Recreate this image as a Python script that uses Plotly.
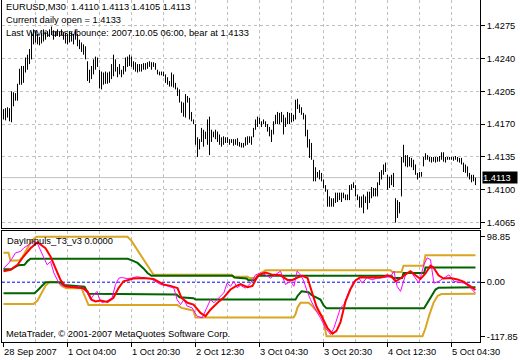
import plotly.graph_objects as go

W, H = 520, 360

# ---------------- data ----------------
symbol_text = "EURUSD,M30"
last_open, last_high, last_low, last_close = 1.4110, 1.4113, 1.4105, 1.4113
daily_open = 1.4133
wma_cross_time = "2007.10.05 06:00"
wma_cross_price = 1.4133
indicator_name = "DayImpuls_T3_v3"
indicator_value = 0.0000

bar_high = [
    1.4186, 1.4187, 1.4188, 1.4187, 1.4205, 1.4204, 1.4203, 1.4213, 1.4229, 1.4232,
    1.4232, 1.4241, 1.4244, 1.4250, 1.4268, 1.4271, 1.4269, 1.4266, 1.4263, 1.4267,
    1.4271, 1.4268, 1.4269, 1.4271, 1.4274, 1.4270, 1.4269, 1.4271, 1.4269, 1.4271,
    1.4268, 1.4267, 1.4266, 1.4269, 1.4268, 1.4266, 1.4270, 1.4266, 1.4260, 1.4257,
    1.4255, 1.4253, 1.4237, 1.4228, 1.4232, 1.4239, 1.4242, 1.4241, 1.4228, 1.4226,
    1.4225, 1.4226, 1.4225, 1.4226, 1.4234, 1.4244, 1.4239, 1.4231, 1.4234, 1.4228,
    1.4232, 1.4241, 1.4242, 1.4244, 1.4242, 1.4237, 1.4236, 1.4234, 1.4234, 1.4234,
    1.4235, 1.4235, 1.4236, 1.4237, 1.4236, 1.4236, 1.4235, 1.4228, 1.4226, 1.4226,
    1.4226, 1.4223, 1.4220, 1.4216, 1.4225, 1.4223, 1.4214, 1.4209, 1.4207, 1.4194,
    1.4193, 1.4202, 1.4200, 1.4198, 1.4183, 1.4175, 1.4170, 1.4156, 1.4154, 1.4166,
    1.4164, 1.4162, 1.4175, 1.4178, 1.4164, 1.4162, 1.4164, 1.4162, 1.4159, 1.4156,
    1.4157, 1.4156, 1.4156, 1.4154, 1.4154, 1.4154, 1.4154, 1.4155, 1.4151, 1.4150,
    1.4150, 1.4156, 1.4157, 1.4157, 1.4157, 1.4166, 1.4175, 1.4178, 1.4177, 1.4173,
    1.4175, 1.4173, 1.4170, 1.4167, 1.4164, 1.4173, 1.4180, 1.4183, 1.4182, 1.4183,
    1.4180, 1.4177, 1.4183, 1.4182, 1.4182, 1.4180, 1.4196, 1.4197, 1.4191, 1.4188,
    1.4182, 1.4180, 1.4164, 1.4154, 1.4150, 1.4132, 1.4124, 1.4119, 1.4121, 1.4118,
    1.4111, 1.4105, 1.4100, 1.4093, 1.4091, 1.4091, 1.4097, 1.4097, 1.4097, 1.4097,
    1.4097, 1.4095, 1.4095, 1.4105, 1.4106, 1.4108, 1.4105, 1.4095, 1.4093, 1.4093,
    1.4095, 1.4093, 1.4098, 1.4098, 1.4103, 1.4102, 1.4102, 1.4108, 1.4119, 1.4121,
    1.4127, 1.4129, 1.4116, 1.4114, 1.4116, 1.4118, 1.4091, 1.4089, 1.4087, 1.4135,
    1.4148, 1.4137, 1.4137, 1.4135, 1.4134, 1.4132, 1.4127, 1.4118, 1.4119, 1.4119,
    1.4135, 1.4139, 1.4137, 1.4135, 1.4135, 1.4135, 1.4135, 1.4135, 1.4136, 1.4140,
    1.4140, 1.4135, 1.4135, 1.4135, 1.4135, 1.4135, 1.4136, 1.4135, 1.4134, 1.4134,
    1.4129, 1.4127, 1.4125, 1.4118, 1.4116, 1.4116, 1.4113,
]
bar_low = [
    1.4175, 1.4174, 1.4177, 1.4173, 1.4172, 1.4189, 1.4195, 1.4195, 1.4212, 1.4212,
    1.4214, 1.4225, 1.4228, 1.4234, 1.4239, 1.4255, 1.4257, 1.4255, 1.4254, 1.4256,
    1.4258, 1.4260, 1.4263, 1.4263, 1.4265, 1.4260, 1.4263, 1.4264, 1.4263, 1.4265,
    1.4260, 1.4256, 1.4255, 1.4257, 1.4258, 1.4255, 1.4260, 1.4253, 1.4250, 1.4247,
    1.4244, 1.4239, 1.4216, 1.4214, 1.4218, 1.4223, 1.4228, 1.4231, 1.4208, 1.4207,
    1.4212, 1.4213, 1.4213, 1.4214, 1.4218, 1.4221, 1.4226, 1.4220, 1.4223, 1.4220,
    1.4223, 1.4226, 1.4231, 1.4232, 1.4231, 1.4228, 1.4226, 1.4225, 1.4226, 1.4226,
    1.4228, 1.4228, 1.4229, 1.4231, 1.4228, 1.4231, 1.4228, 1.4223, 1.4222, 1.4222,
    1.4221, 1.4214, 1.4212, 1.4210, 1.4210, 1.4209, 1.4207, 1.4200, 1.4193, 1.4182,
    1.4178, 1.4177, 1.4193, 1.4175, 1.4173, 1.4170, 1.4148, 1.4135, 1.4143, 1.4151,
    1.4146, 1.4154, 1.4148, 1.4137, 1.4151, 1.4156, 1.4154, 1.4151, 1.4148, 1.4146,
    1.4148, 1.4150, 1.4150, 1.4148, 1.4150, 1.4147, 1.4148, 1.4147, 1.4146, 1.4145,
    1.4145, 1.4147, 1.4148, 1.4150, 1.4148, 1.4156, 1.4164, 1.4167, 1.4170, 1.4167,
    1.4170, 1.4167, 1.4162, 1.4157, 1.4151, 1.4159, 1.4170, 1.4170, 1.4170, 1.4172,
    1.4159, 1.4167, 1.4170, 1.4170, 1.4172, 1.4173, 1.4175, 1.4186, 1.4182, 1.4180,
    1.4175, 1.4157, 1.4145, 1.4134, 1.4132, 1.4109, 1.4109, 1.4113, 1.4111, 1.4109,
    1.4102, 1.4098, 1.4082, 1.4082, 1.4082, 1.4082, 1.4086, 1.4087, 1.4089, 1.4087,
    1.4091, 1.4089, 1.4089, 1.4089, 1.4100, 1.4102, 1.4093, 1.4089, 1.4081, 1.4081,
    1.4075, 1.4086, 1.4079, 1.4086, 1.4091, 1.4093, 1.4093, 1.4093, 1.4105, 1.4111,
    1.4116, 1.4119, 1.4100, 1.4102, 1.4105, 1.4103, 1.4065, 1.4070, 1.4075, 1.4093,
    1.4129, 1.4125, 1.4124, 1.4125, 1.4124, 1.4121, 1.4116, 1.4111, 1.4113, 1.4114,
    1.4125, 1.4132, 1.4132, 1.4130, 1.4129, 1.4130, 1.4129, 1.4130, 1.4130, 1.4132,
    1.4130, 1.4129, 1.4132, 1.4132, 1.4132, 1.4131, 1.4132, 1.4130, 1.4129, 1.4127,
    1.4119, 1.4118, 1.4114, 1.4111, 1.4108, 1.4109, 1.4105,
]

# indicator lines: (bar position, value)
red_x = [0, 3.5, 7, 10, 13.5, 17, 18.5, 21, 23.5, 26, 28.5, 31, 35, 40, 42, 44, 46, 48.5, 52, 55,
         57.5, 60, 65, 70, 75, 80, 83.5, 87, 89, 92, 95, 98.5, 101, 103.5, 107, 110, 113.5, 116,
         118.5, 122, 124.5, 127, 129, 131, 134, 138.5, 142, 144.5, 147, 149.5, 152, 154, 156.5,
         159.5, 162, 164.5, 166.5, 168.5, 171, 173.5, 176, 178.5, 182, 185, 188.5, 192, 194.5,
         196, 198.5, 201, 203.5, 206, 208.5, 211, 213.5, 215, 217.5, 220, 223.5, 227, 230, 233.5, 236]
red_y = [24, 27, 38, 56, 74, 87, 82, 74, 56, 31, 5, -9, -11, -13, -20, -38, -42, -40, -43, -34,
         -13, 2, 8, 9, 7, -5, -8, -13, -34, -45, -49, -67, -74, -60, -45, -34, -16, -9,
         -4, -11, -8, 13, 18, 21, 17, 15, 5, 5, 10, 14, 9, -20, -53,
         -78, -100, -112, -106, -87, -42, -15, 4, 11, 10, 11, 10, 15, 10,
         2, 8, 17, 24, 15, 7, 19, 36, 32, 15, 8, 9, 6, 1, -9, -17]

mag_x = [0, 2.7, 4.3, 6, 8.5, 10.2, 12.7, 15.2, 16.8, 18.5, 20.2, 21.8, 23.5, 25.2, 27.7, 30.2,
         33.5, 38.5, 41.8, 43.5, 45.2, 46.8, 47.7, 49.3, 51.8, 54.3, 56, 57.7, 59.3, 61.8, 64.3,
         66.8, 70.2, 73.5, 76.8, 78.5, 81.8, 85.2, 86.8, 88.5, 90.2, 91.8, 94.3, 96.8, 99.3,
         101.8, 103.5, 105.2, 107.7, 110.2, 111.8, 113.5, 115.2, 116.8, 118.5, 121, 123.5, 126,
         128.5, 131, 133.5, 136, 138.5, 141, 143.5, 145.2, 146.8, 148.5, 150.2, 151.8, 153.5,
         156, 158.5, 161, 163.5, 165.2, 166.8, 168.5, 170.2, 172.7, 175.2, 177.7, 179.3, 181.8,
         184.3, 186.8, 190.2, 193.5, 195.2, 196.8, 198.5, 201, 203.5, 206, 207.7, 210.2, 211.8,
         213.5, 215.2, 217.7, 220.2, 222.7, 225.2, 227.7, 230.2, 232.7, 236]
mag_y = [30, 42, 52, 64, 67, 75, 82, 89, 86, 71, 53, 38, 45, 20, -2, -9,
         -11, -10, -23, -38, -27, -20, -34, -45, -41, -34, -5, 9, 10, 8, 9,
         12, 9, 8, 0, -5, -8, -13, -38, -49, -38, -52, -56, -74, -78,
         -52, -38, -45, -34, -23, -2, -9, 2, -12, -7, -13, -2, 16,
         20, 16, 9, 16, 24, -5, 2, -9, 24, 16, 2, -20, -38,
         -60, -78, -100, -114, -100, -78, -56, -49, -20, 2, 9, -2, 10,
         5, 9, 10, 12, 24, -9, -20, 16, 24, 9, -2, 38, 53,
         49, -2, 2, 9, 16, 2, 0, -2, -9, -24]

orange_up_x = [0, 2.5, 3.5, 8, 9.5, 12, 14, 16.5, 62, 64, 67, 70, 73, 75, 114, 115, 122, 123,
               126, 128, 131, 193.5, 194.5, 199, 200, 210, 211, 236]
orange_up_y = [64, 64, 47, 48, 55, 75, 90, 98.85, 98.85, 90, 70, 50, 30, 16, 16, 12, 12, 9,
               9, 18, 26, 26, 22, 22, 36, 36, 59, 59]

orange_lo_x = [0, 15, 17, 19, 21, 23, 27.5, 29, 31.5, 39, 40.5, 42.5, 87, 89, 93, 95, 96, 145,
               146, 147, 148.5, 152.5, 154, 156, 159.5, 160.5, 161.5, 209.5, 211, 213, 215, 217,
               219, 236]
orange_lo_y = [-47.5, -47.5, -40, -25, -8, 1, 0, -8, -13, -13, -30, -50, -50, -56, -60, -62, -77,
               -77, -70, -55, -45, -45, -50, -60, -75, -100, -117.85, -117.85, -100, -70, -45,
               -30, -26, -25]

green_up_x = [0, 4, 5, 7.5, 10.5, 12, 13.5, 62, 64, 67, 70, 72, 74, 114.5, 115.5, 121.5, 122.5,
              125.5, 127.5, 194, 194.7, 199.3, 200, 210.3, 211, 236]
green_up_y = [28, 28, 31, 37, 38, 46, 51, 51, 48, 42, 30, 20, 14, 14, 10, 8, 4,
              4, 14, 14, 9, 9, 20, 20, 32, 32]

green_lo_x = [0, 15.5, 17, 19, 21, 28.5, 30, 40.5, 41.5, 42.5, 86.5, 88, 95, 96, 146, 147, 149,
              152.5, 154, 156, 158.5, 160, 161.5, 210.3, 212, 214, 216, 217.5, 236]
green_lo_y = [-24, -24, -18, -8, 0, 0, -6, -10, -18, -25, -27, -33, -35, -38, -38, -30, -20,
              -22, -28, -33, -38, -50, -57, -57, -45, -30, -16, -12, -11]

grid_bars = [16, 32, 48, 64, 80, 96, 112, 128, 144, 160, 176, 192, 208, 224]
x_tick_bars = [0, 32, 64, 96, 128, 160, 192, 224]
x_tick_labels = ["28 Sep 2007", "1 Oct 04:00", "1 Oct 20:30", "2 Oct 12:30",
                 "3 Oct 04:30", "3 Oct 20:30", "4 Oct 12:30", "5 Oct 04:30"]
price_ticks = [1.4065, 1.4100, 1.4135, 1.4170, 1.4205, 1.4240, 1.4275]
ind_ticks = [98.85, 0.0, -117.85]
ind_tick_labels = ["98.85", "0.00", "-117.85"]

# ---------------- styling ----------------
FONT = "Liberation Sans, Arial, sans-serif"
FS = 9.3
GRID = "#C0C0C0"
ORANGE = "#DAA520"
GREEN = "#006400"

def fy(px):
    return 1 - px / H

def fx(px):
    return px / W

x_range = [-0.75, 238.25]
main_y_range = [1.40593, 1.43023]
ind_y_range = [-130.4, 111.6]

fig = go.Figure()

# price bars (high-low lines)
bx, by = [], []
for i, (h, l) in enumerate(zip(bar_high, bar_low)):
    bx += [i, i, None]
    by += [l, h, None]
fig.add_trace(go.Scatter(x=bx, y=by, mode="lines", line=dict(color="black", width=1),
                         xaxis="x", yaxis="y", hoverinfo="skip"))

# indicator
def ind_line(xs, ys, color, width):
    fig.add_trace(go.Scatter(x=xs, y=ys, mode="lines", line=dict(color=color, width=width),
                             xaxis="x2", yaxis="y2", hoverinfo="skip"))

ind_line(orange_up_x, orange_up_y, ORANGE, 2)
ind_line(orange_lo_x, orange_lo_y, ORANGE, 2)
ind_line(green_up_x, green_up_y, GREEN, 2)
ind_line(green_lo_x, green_lo_y, GREEN, 2)
ind_line(mag_x, mag_y, "#FF00FF", 1)
ind_line(red_x, red_y, "#FF0000", 2)

# carrier for the tick-mark axis
fig.add_trace(go.Scatter(x=x_tick_bars, y=[0] * len(x_tick_bars), mode="markers",
                         marker=dict(opacity=0), xaxis="x3", yaxis="y2", hoverinfo="skip"))

common_x = dict(range=x_range, domain=[fx(2), fx(480)], fixedrange=True, zeroline=False,
                automargin=False)

fig.update_layout(
    width=W, height=H, margin=dict(l=0, r=0, t=0, b=0, pad=0, autoexpand=False),
    paper_bgcolor="white", plot_bgcolor="white", showlegend=False,
    font=dict(family=FONT, size=FS, color="black"),
    xaxis=dict(**common_x, anchor="y", tickvals=grid_bars, showticklabels=False, ticks="",
               showgrid=True, gridcolor=GRID, griddash="3px,3px", gridwidth=1,
               showline=True, linecolor="black", linewidth=1),
    yaxis=dict(domain=[fy(228), fy(0)], range=main_y_range, side="right", anchor="x",
               tickvals=price_ticks, ticktext=[f"{p:.4f}" for p in price_ticks],
               ticks="outside", ticklen=4, tickcolor="black", tickwidth=1,
               showgrid=True, gridcolor=GRID, griddash="3px,3px", gridwidth=1,
               zeroline=False, showline=True, linecolor="black", linewidth=1, mirror=True,
               fixedrange=True, automargin=False,
               tickfont=dict(family=FONT, size=FS, color="black")),
    xaxis2=dict(**common_x, anchor="y2", tickvals=grid_bars, showticklabels=False, ticks="",
                showgrid=True, gridcolor=GRID, griddash="3px,3px", gridwidth=1,
                showline=True, linecolor="black", linewidth=1, mirror=True),
    yaxis2=dict(domain=[fy(342), fy(231)], range=ind_y_range, side="right", anchor="x2",
                tickvals=ind_ticks, ticktext=ind_tick_labels,
                ticks="outside", ticklen=4, tickcolor="black", tickwidth=1,
                showgrid=False, zeroline=False, showline=True, linecolor="black", linewidth=1,
                mirror=True, fixedrange=True, automargin=False,
                tickfont=dict(family=FONT, size=FS, color="black")),
    xaxis3=dict(**common_x, anchor="y2", overlaying="x2", side="bottom",
                tickvals=x_tick_bars, showticklabels=False, ticks="outside", ticklen=4,
                tickcolor="black", tickwidth=1, showgrid=False, showline=False),
)

# zero level and current price line
fig.add_shape(type="line", xref="x2 domain", x0=0, x1=1, yref="y2", y0=0, y1=0,
              line=dict(color="#0000FF", width=1, dash="3px,2px"), layer="below")
fig.add_shape(type="line", xref="x domain", x0=0, x1=1, yref="y", y0=last_close, y1=last_close,
              line=dict(color=GRID, width=1), layer="below")

def note(text, x, px_y, xref="paper", xshift=0):
    fig.add_annotation(text=text, xref=xref, yref="paper", x=x, y=fy(px_y),
                       xanchor="left", yanchor="middle", showarrow=False, xshift=xshift,
                       font=dict(family=FONT, size=FS, color="black"))

nb = "\u00a0"
note(f"{symbol_text}{nb}{nb}{last_open:.4f} {last_high:.4f} {last_low:.4f} {last_close:.4f}", fx(4), 6.8)
note(f"Current daily open = {daily_open:.4f}", fx(4), 19.5)
note(f"Last WMA cross/bounce: {wma_cross_time}, bear at {wma_cross_price:.4f}", fx(4), 32.5)
note(f"{indicator_name} {indicator_value:.4f}", fx(5), 241)
note("MetaTrader, © 2001-2007 MetaQuotes Software Corp.", fx(4), 334)

# time labels, left-aligned at their tick
for tb, tl in zip(x_tick_bars, x_tick_labels):
    note(tl, tb, 351.5, xref="x2", xshift=-2)

# current price tag
fig.add_annotation(text=f"{last_close:.4f}", xref="paper", yref="y", x=fx(482), y=last_close,
                   xanchor="left", yanchor="middle", showarrow=False, bgcolor="black",
                   width=34, height=11, align="left", borderpad=0,
                   font=dict(family=FONT, size=FS, color="white"))

fig.write_html("out.html", post_script="document.body.style.margin='0px';",
               config={"displayModeBar": False, "staticPlot": True})
